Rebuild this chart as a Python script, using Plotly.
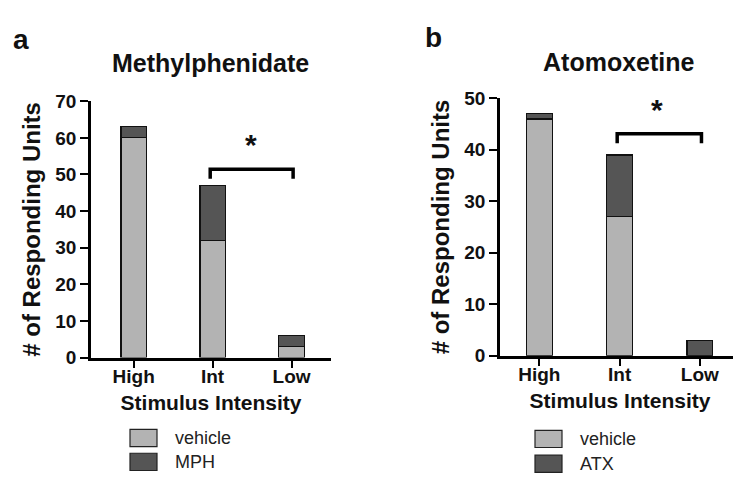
import plotly.graph_objects as go

categories = ["High", "Int", "Low"]

# Panel a: Methylphenidate
mph_vehicle = [60, 32, 3]
mph_drug = [3, 15, 3]
mph_names = ["vehicle", "MPH"]

# Panel b: Atomoxetine
atx_vehicle = [46, 27, 0]
atx_drug = [1, 12, 3]
atx_names = ["vehicle", "ATX"]

panel_titles = ["Methylphenidate", "Atomoxetine"]
panel_letters = ["a", "b"]
y_title = "# of Responding Units"
x_title = "Stimulus Intensity"
y_ranges = [[0, 70], [0, 50]]
y_dticks = [10, 10]

LIGHT = "#b3b3b3"
DARK = "#555555"
FONT = "Liberation Sans, Arial, sans-serif"
W, H = 741, 484

fig = go.Figure()
xpos = list(range(len(categories)))

for i, (veh, drug, names) in enumerate([(mph_vehicle, mph_drug, mph_names),
                                         (atx_vehicle, atx_drug, atx_names)]):
    xa = "x" if i == 0 else "x2"
    ya = "y" if i == 0 else "y2"
    fig.add_trace(go.Bar(x=xpos, y=veh, name=names[0], marker=dict(color=LIGHT, line=dict(color="#111", width=1.2)),
                         width=0.32, xaxis=xa, yaxis=ya, showlegend=False))
    fig.add_trace(go.Bar(x=xpos, y=drug, name=names[1], marker=dict(color=DARK, line=dict(color="#111", width=1.2)),
                         width=0.32, xaxis=xa, yaxis=ya, showlegend=False))

axis_common = dict(showline=True, linecolor="black", linewidth=2.5, ticks="outside", ticklen=8,
                   tickwidth=2, tickcolor="black", showgrid=False, zeroline=False)
xfont = dict(family=FONT, size=19, color="#111")
yfont = dict(family=FONT, size=19, color="#111")

fig.update_layout(
    width=W, height=H, margin=dict(l=0, r=0, t=0, b=0),
    paper_bgcolor="white", plot_bgcolor="white", barmode="stack",
    xaxis=dict(domain=[83 / W, 323 / W], range=[-0.54, 2.5], tickvals=xpos,
               ticktext=[f"<b>{c}</b>" for c in categories], anchor="y", tickfont=xfont,
               ticklabelstandoff=-8,
               title=dict(text=f"<b>{x_title}</b>", font=dict(family=FONT, size=21, color="#111"), standoff=10),
               **axis_common),
    yaxis=dict(domain=[1 - 355 / H, 1 - 87 / H], range=y_ranges[0], dtick=y_dticks[0], anchor="x",
               tickfont=yfont, tickprefix="<b>", ticksuffix="</b>",
               title=dict(text=f"<b>{y_title}</b>", font=dict(family=FONT, size=24, color="#111"), standoff=8),
               **axis_common),
    xaxis2=dict(domain=[492 / W, 732 / W], range=[-0.49, 2.5], tickvals=xpos,
                ticktext=[f"<b>{c}</b>" for c in categories], anchor="y2", tickfont=xfont,
                ticklabelstandoff=-8,
                title=dict(text=f"<b>{x_title}</b>", font=dict(family=FONT, size=21, color="#111"), standoff=10),
                **axis_common),
    yaxis2=dict(domain=[1 - 353 / H, 1 - 84 / H], range=y_ranges[1], dtick=y_dticks[1], anchor="x2",
                tickfont=yfont, tickprefix="<b>", ticksuffix="</b>",
                title=dict(text=f"<b>{y_title}</b>", font=dict(family=FONT, size=24, color="#111"), standoff=8),
                **axis_common),
    font=dict(family=FONT, color="#111"),
)

# Significance brackets
brackets = [("x", "y", 0.97, 2.02, 51.4, 48.8, 1.49, 53.0),
            ("x2", "y2", 0.97, 2.02, 43.1, 41.3, 1.46, 44.2)]
for xr, yr, x0, x1, ytop, yend, xs, ys in brackets:
    fig.add_shape(type="path", xref=xr, yref=yr,
                  path=f"M {x0},{yend} L {x0},{ytop} L {x1},{ytop} L {x1},{yend}",
                  line=dict(color="black", width=3.5))
    fig.add_annotation(x=xs, y=ys, xref=xr, yref=yr, text="<b>*</b>", showarrow=False,
                       font=dict(family=FONT, size=30, color="#111"), yanchor="bottom")

# Panel titles and letters
for cx, cy, t in [(202, 47, panel_titles[0]), (611, 46, panel_titles[1])]:
    fig.add_annotation(x=cx / W, y=1 - cy / H, xref="paper", yref="paper", text=f"<b>{t}</b>",
                       showarrow=False, font=dict(family=FONT, size=25, color="#111"),
                       xanchor="center", yanchor="middle")
for cx, cy, t in [(13, 22, panel_letters[0]), (425, 20, panel_letters[1])]:
    fig.add_annotation(x=cx / W, y=1 - cy / H, xref="paper", yref="paper", text=f"<b>{t}</b>",
                       showarrow=False, font=dict(family=FONT, size=28, color="#111"),
                       xanchor="center", yanchor="middle")

# Legends (swatch + label)
legend_specs = [(122, [430, 455], mph_names), (527, [431, 457], atx_names)]
for lx, tops, names in legend_specs:
    for top, nm, col in zip(tops, names, [LIGHT, DARK]):
        fig.add_shape(type="rect", xref="paper", yref="paper",
                      x0=lx / W, x1=(lx + 27) / W, y0=1 - (top + 18) / H, y1=1 - top / H,
                      fillcolor=col, line=dict(color="#222", width=1.2))
        fig.add_annotation(x=(lx + 43) / W, y=1 - (top + 9) / H, xref="paper", yref="paper",
                           text=nm, showarrow=False, xanchor="left", yanchor="middle",
                           font=dict(family=FONT, size=18, color="#222"))

fig.write_html("out.html")
